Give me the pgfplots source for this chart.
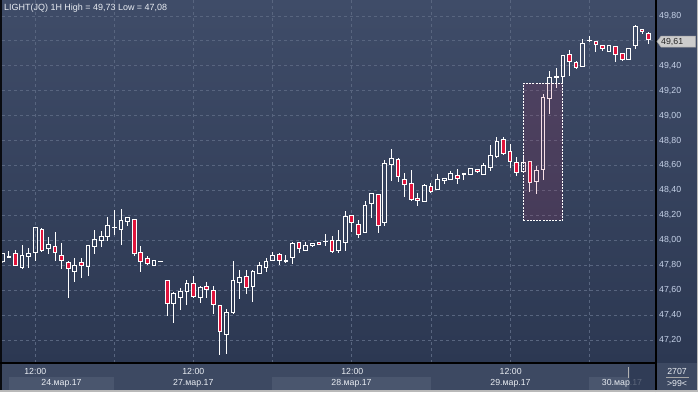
\documentclass[border=0pt]{standalone}
\usepackage{fontspec}
\setmainfont{Liberation Sans}
\usepackage{pgfplots}
\usepackage{pgfplotstable}
\pgfplotsset{compat=1.18}
\definecolor{bgtop}{HTML}{3F4C68}
\definecolor{bgbot}{HTML}{2C3852}
\definecolor{gridc}{HTML}{58657F}
\definecolor{candred}{HTML}{E0143C}
\definecolor{panel}{HTML}{3D4962}
\definecolor{panelbox}{HTML}{4A566E}
\definecolor{tickc}{HTML}{C6D2E8}
\definecolor{txt}{HTML}{E8ECF2}
\definecolor{hlc}{HTML}{C02050}
\pgfplotstableread{
k o h l c
0 47.830 47.900 47.820 47.890
1 47.865 47.910 47.860 47.872
2 47.890 47.920 47.800 47.800
3 47.785 47.960 47.770 47.876
4 47.870 47.940 47.780 47.890
5 47.900 48.100 47.830 48.100
6 48.085 48.100 47.905 47.920
7 47.930 48.030 47.890 47.965
8 47.950 48.070 47.835 47.900
9 47.876 47.980 47.770 47.836
10 47.820 47.830 47.535 47.770
11 47.750 47.860 47.665 47.800
12 47.820 47.860 47.700 47.796
13 47.790 47.957 47.713 47.957
14 47.950 48.080 47.890 48.005
15 47.997 48.077 47.943 48.034
16 48.030 48.184 47.997 48.117
17 48.100 48.243 48.040 48.100
18 48.085 48.250 47.965 48.157
19 48.149 48.181 48.114 48.181
20 48.165 48.165 47.870 47.890
21 47.900 47.954 47.745 47.830
22 47.850 47.874 47.804 47.815
23 47.796 47.836 47.796 47.836
24 47.828 47.828 47.828 47.828
25 47.680 47.680 47.390 47.490
26 47.494 47.583 47.340 47.570
27 47.543 47.620 47.444 47.588
28 47.588 47.680 47.480 47.652
29 47.657 47.710 47.537 47.550
30 47.540 47.630 47.500 47.620
31 47.625 47.663 47.537 47.605
32 47.593 47.630 47.406 47.486
33 47.473 47.473 47.080 47.264
34 47.246 47.450 47.090 47.417
35 47.422 47.837 47.406 47.676
36 47.663 47.765 47.530 47.698
37 47.706 47.760 47.570 47.623
38 47.630 47.762 47.508 47.746
39 47.735 47.829 47.735 47.794
40 47.783 47.858 47.749 47.826
41 47.840 47.909 47.840 47.874
42 47.882 47.898 47.800 47.840
43 47.833 47.885 47.820 47.838
44 47.858 47.987 47.810 47.970
45 47.984 47.984 47.896 47.936
46 47.920 47.987 47.920 47.955
47 47.955 47.970 47.946 47.970
48 47.984 47.984 47.960 47.968
49 47.990 48.050 47.952 47.993
50 47.997 48.035 47.900 47.912
51 47.920 48.083 47.900 48.000
52 47.984 48.236 47.914 48.190
53 48.200 48.200 48.070 48.144
54 48.126 48.163 48.022 48.048
55 48.064 48.316 48.064 48.281
56 48.292 48.377 48.182 48.377
57 48.369 48.369 48.062 48.120
58 48.145 48.642 48.118 48.618
59 48.610 48.733 48.476 48.658
60 48.650 48.664 48.468 48.514
61 48.490 48.540 48.350 48.450
62 48.458 48.562 48.318 48.329
63 48.337 48.377 48.278 48.321
64 48.313 48.450 48.313 48.441
65 48.433 48.463 48.377 48.393
66 48.409 48.535 48.409 48.490
67 48.482 48.498 48.450 48.498
68 48.490 48.557 48.482 48.538
69 48.522 48.570 48.450 48.498
70 48.528 48.532 48.487 48.532
71 48.530 48.578 48.530 48.578
72 48.570 48.570 48.538 48.554
73 48.530 48.618 48.520 48.602
74 48.586 48.765 48.554 48.682
75 48.669 48.832 48.658 48.790
76 48.805 48.827 48.685 48.700
77 48.709 48.776 48.583 48.629
78 48.620 48.666 48.514 48.540
79 48.554 48.666 48.554 48.620
80 48.629 48.629 48.391 48.460
81 48.474 48.592 48.370 48.560
82 48.565 49.170 48.482 49.143
83 49.135 49.362 49.012 49.303
84 49.306 49.383 49.225 49.312
85 49.314 49.480 49.263 49.480
86 49.490 49.530 49.316 49.431
87 49.426 49.437 49.378 49.389
88 49.397 49.619 49.389 49.576
89 49.601 49.637 49.590 49.605
90 49.592 49.592 49.509 49.568
91 49.560 49.560 49.522 49.536
92 49.517 49.563 49.517 49.563
93 49.552 49.552 49.429 49.488
94 49.498 49.498 49.440 49.453
95 49.448 49.536 49.448 49.536
96 49.560 49.730 49.533 49.712
97 49.688 49.688 49.653 49.672
98 49.656 49.675 49.576 49.610
}\candles
\begin{document}
\begin{tikzpicture}[x=1bp,y=1bp]
\useasboundingbox (0,0) rectangle (698,392);
% backgrounds
\shade[top color=bgtop, bottom color=bgbot] (0,29) rectangle (698,392);
\fill[panel] (0,0) rectangle (698,29);
\fill[panelbox] (9,2) rectangle (114,15);
\fill[panelbox] (272,2) rectangle (431,15);
\fill[panelbox] (589,2) rectangle (629,15);
\begin{axis}[
  at={(2.3bp,29bp)}, anchor=south west,
  scale only axis, width=653.7bp, height=363bp,
  xmin=0, xmax=99.12, ymin=47.015, ymax=49.928,
  axis line style={draw=none}, tick style={draw=none},
  major tick length=0pt,
  xtick={5,17,29,41,53,65,77,89}, xticklabels={},
  ytick={47.2,47.4,47.6,47.8,48.0,48.2,48.4,48.6,48.8,49.0,49.2,49.4,49.8},
  extra y ticks={49.6}, extra y tick labels={},
  extra y tick style={ymajorgrids=true, major grid style={draw=gridc, line width=0.8bp, dash pattern=on 3bp off 3bp}},
  yticklabel pos=right,
  yticklabel style={font=\fontsize{8.8}{10}\selectfont, text=tickc, anchor=west, inner sep=0pt, xshift=3bp,
    /pgf/number format/.cd, fixed, fixed zerofill, precision=2, use comma, assume math mode=true},
  xmajorgrids, ymajorgrids,
  major grid style={draw=gridc, line width=0.8bp, dash pattern=on 3bp off 3bp},
]
% upper wicks
\addplot[draw=none, mark=none, forget plot,
  error bars/.cd, y dir=plus, y explicit, error mark=none,
  error bar style={draw=white, line width=1bp, solid}]
  table[x=k, y expr={max(\thisrow{o},\thisrow{c})},
        y error plus expr={\thisrow{h}-max(\thisrow{o},\thisrow{c})}] {\candles};
% lower wicks
\addplot[draw=none, mark=none, forget plot,
  error bars/.cd, y dir=minus, y explicit, error mark=none,
  error bar style={draw=white, line width=1bp, solid}]
  table[x=k, y expr={min(\thisrow{o},\thisrow{c})},
        y error minus expr={min(\thisrow{o},\thisrow{c})-\thisrow{l}}] {\candles};
% red fill
\addplot[draw=none, mark=none, forget plot,
  error bars/.cd, y dir=plus, y explicit, error mark=none,
  error bar style={draw=candred, line width=4.4bp, solid}]
  table[x=k, y=c, y error plus expr={max(\thisrow{o}-\thisrow{c},0)}] {\candles};
% left sides
\addplot[draw=none, mark=none, forget plot,
  error bars/.cd, y dir=plus, y explicit, error mark=none,
  error bar style={draw=white, line width=1bp, solid}]
  table[x expr={\thisrow{k}-0.281}, y expr={min(\thisrow{o},\thisrow{c})},
        y error plus expr={abs(\thisrow{o}-\thisrow{c})}] {\candles};
% right sides
\addplot[draw=none, mark=none, forget plot,
  error bars/.cd, y dir=plus, y explicit, error mark=none,
  error bar style={draw=white, line width=1bp, solid}]
  table[x expr={\thisrow{k}+0.281}, y expr={min(\thisrow{o},\thisrow{c})},
        y error plus expr={abs(\thisrow{o}-\thisrow{c})}] {\candles};
% tops
\addplot[draw=none, mark=none, forget plot,
  error bars/.cd, x dir=both, x fixed=0.357, error mark=none,
  error bar style={draw=white, line width=1bp, solid}]
  table[x=k, y expr={max(\thisrow{o},\thisrow{c})}] {\candles};
% bottoms
\addplot[draw=none, mark=none, forget plot,
  error bars/.cd, x dir=both, x fixed=0.357, error mark=none,
  error bar style={draw=white, line width=1bp, solid}]
  table[x=k, y expr={min(\thisrow{o},\thisrow{c})}] {\candles};
% highlight box
\addplot[fill=hlc, fill opacity=0.14, draw=none, forget plot]
  coordinates {(79,48.163) (85,48.163) (85,49.26) (79,49.26) (79,48.163)};
\addplot[draw=white, line width=0.8bp, dash pattern=on 2bp off 1.2bp, forget plot]
  coordinates {(79,48.163) (85,48.163) (85,49.26) (79,49.26) (79,48.163)};
\end{axis}
% frame lines
\fill[black!80!bgbot] (0,0) rectangle (2,392);
\draw[black, line width=1.2bp] (656,0) -- (656,392);
\draw[black, line width=1.2bp] (0,29) -- (656,29);
\fill[gray!55!white] (0,0) rectangle (698,1.8);
\fill[gray!55!white] (696.6,0) rectangle (698,392);
% title
\node[anchor=west, inner sep=0pt, text=txt, font=\fontsize{9}{10}\selectfont] at (4,384) {LIGHT(JQ) 1H High = 49,73 Low = 47,08};
% price tag
\fill[gray!40!white, draw=gray!70!white, line width=0.5bp] (657,350.5) -- (661,355.8) -- (695.5,355.8) -- (695.5,345) -- (661,345) -- cycle;
\node[anchor=west, inner sep=0pt, text=black!85, font=\fontsize{8.8}{10}\selectfont] at (661,350.4) {49,61};
% x labels
\foreach \xx in {35.3,193.3,352.3,510.7}{
  \node[inner sep=0pt, text=txt, font=\fontsize{8.8}{10}\selectfont] at (\xx,20.5) {12:00};
}
\node[inner sep=0pt, text=txt, font=\fontsize{8.8}{10}\selectfont] at (61.5,9) {24.мар.17};
\node[inner sep=0pt, text=txt, font=\fontsize{8.8}{10}\selectfont] at (193.3,9) {27.мар.17};
\node[inner sep=0pt, text=txt, font=\fontsize{8.8}{10}\selectfont] at (351.5,9) {28.мар.17};
\node[inner sep=0pt, text=txt, font=\fontsize{8.8}{10}\selectfont] at (510.5,9) {29.мар.17};
\node[inner sep=0pt, text=txt, font=\fontsize{8.8}{10}\selectfont] at (622,9) {30.мар.17};
\fill[bgbot, opacity=0.75] (630,2) rectangle (655.3,28.3);
\draw[gray!60!white, line width=0.6bp] (628.5,14) -- (628.5,25.3);
% right bottom box
\node[inner sep=0pt, text=txt, font=\fontsize{8.8}{10}\selectfont] at (677,21) {2707};
\draw[gray!70!white, line width=0.5bp] (666,14.7) -- (689,14.7);
\node[inner sep=0pt, text=txt, font=\fontsize{8.8}{10}\selectfont] at (677,8.5) {>99<};
\end{tikzpicture}
\end{document}
